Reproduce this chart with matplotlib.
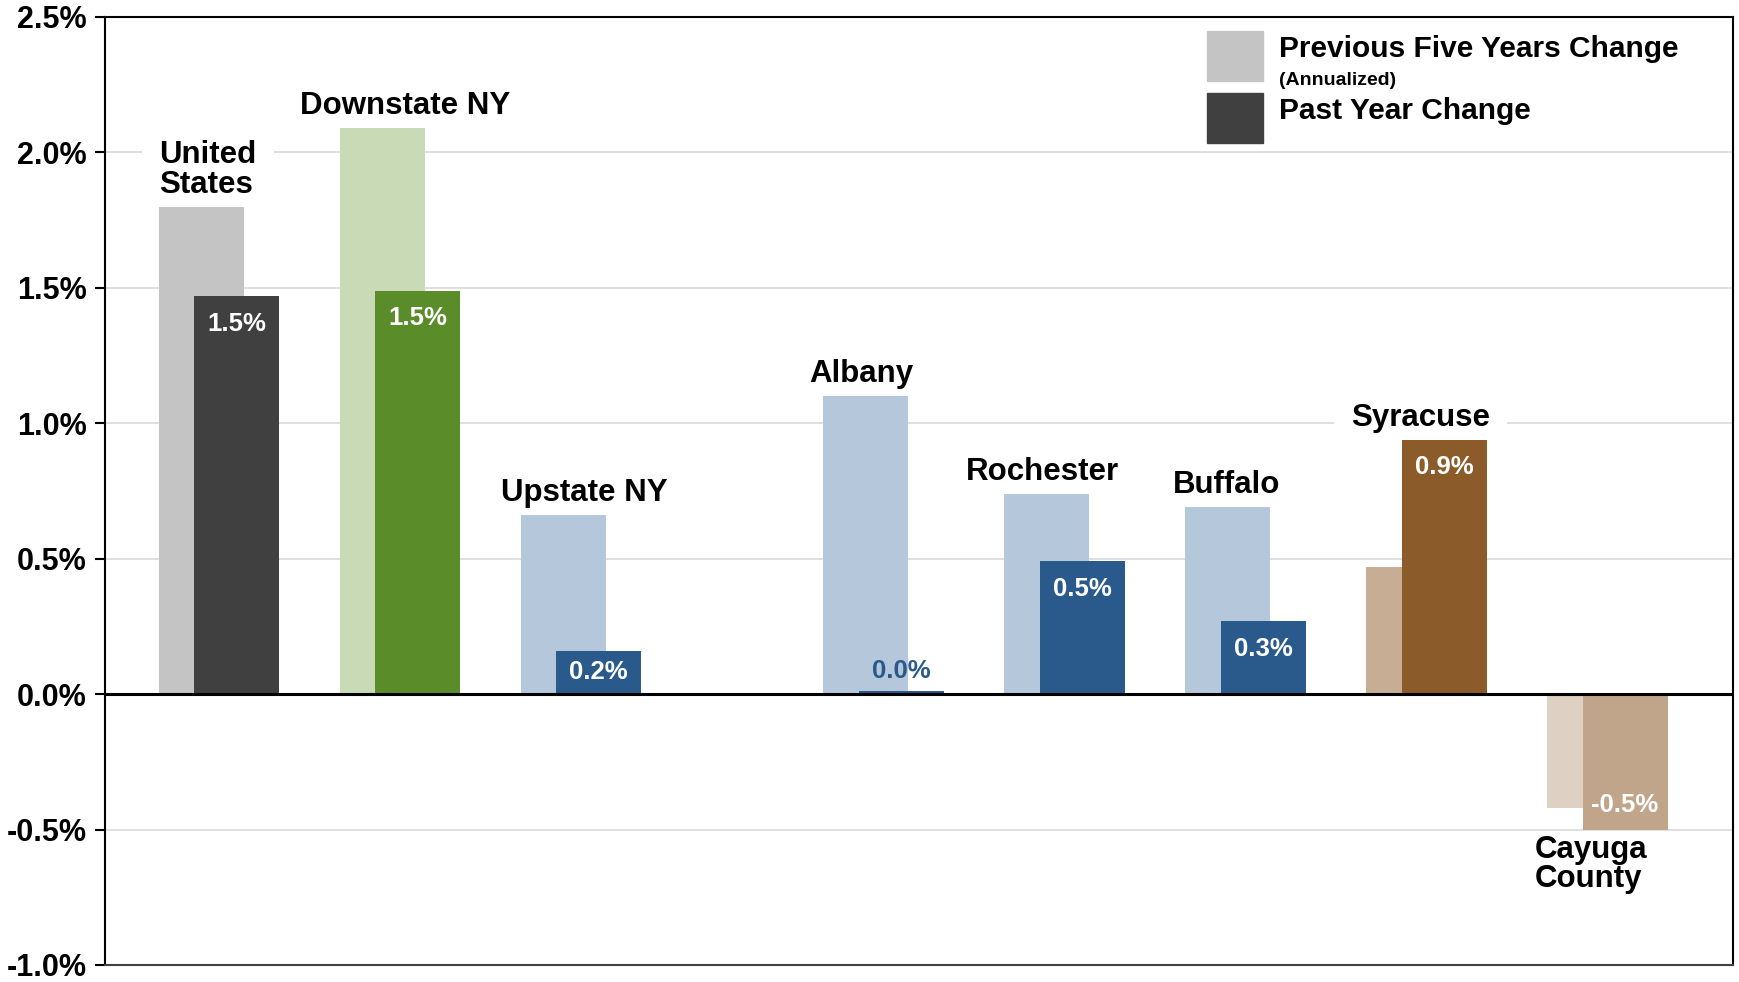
import matplotlib.pyplot as plt
from matplotlib.patches import Rectangle
import matplotlib.ticker as ticker

plt.rcParams['font.family'] = ['Liberation Sans', 'DejaVu Sans']
plt.rcParams['font.weight'] = 'bold'

# Data (percent change)
regions = ["United\nStates", "Downstate NY", "Upstate NY", "Albany",
           "Rochester", "Buffalo", "Syracuse", "Cayuga\nCounty"]
five_year = [1.80, 2.09, 0.66, 1.10, 0.74, 0.69, 0.47, -0.42]
past_year = [1.47, 1.49, 0.16, 0.01, 0.49, 0.27, 0.94, -0.50]

# bar positions (gap between Upstate NY and Albany)
pos = [0, 1, 2, 3.67, 4.67, 5.67, 6.67, 7.67]
label_x = [0.27, 1.36, 2.35, 3.88, 4.88, 5.90, 6.97, 7.91]

light_colors = ['#c4c4c4', '#c9dab6', '#b5c7da', '#b5c7da', '#b5c7da', '#b5c7da', '#c6ad94', '#ded0c2']
dark_colors = ['#404040', '#5b8c2a', '#2a5a8c', '#2a5a8c', '#2a5a8c', '#2a5a8c', '#8c5b2a', '#c1a58a']

W = 1739
H = 982
fig = plt.figure(figsize=(W / 100, H / 100), dpi=100)
ax = fig.add_axes([105 / W, 17 / H, (1733 - 105) / W, (965 - 17) / H])

bw = 0.47
off = 0.195
ax.bar(pos, five_year, width=bw, align='edge', color=light_colors, zorder=2)
dark_x = [p + off for p in pos]
ax.bar(dark_x, past_year, width=bw, align='edge', color=dark_colors, zorder=3)

ax.set_xlim(-0.298, 8.696)
ax.set_ylim(-1.0, 2.5)
ax.yaxis.set_major_locator(ticker.MultipleLocator(0.5))
ax.yaxis.set_major_formatter(ticker.FuncFormatter(lambda v, p: '{:.1f}%'.format(v)))
ax.set_xticks([])
ax.tick_params(axis='y', length=7, width=1.5, pad=6, labelsize=22)
for t in ax.get_yticklabels():
    t.set_fontweight('bold')

ax.grid(axis='y', color='#d9d9d9', lw=1.2, zorder=0)
ax.set_axisbelow(True)
ax.axhline(0, color='black', lw=2.2, zorder=4)

for s in ['left', 'top', 'right']:
    ax.spines[s].set_color('black')
    ax.spines[s].set_linewidth(1.5)
ax.spines['bottom'].set_color('#404040')
ax.spines['bottom'].set_linewidth(1.5)

# category labels (white box hides the gridlines behind them)
for i, name in enumerate(regions):
    top = max(five_year[i], past_year[i])
    bot = min(five_year[i], past_year[i])
    if top > 0:
        ax.annotate(name, xy=(label_x[i], top), xytext=(0, 5), textcoords='offset points',
                    ha='center', va='bottom', multialignment='left', fontsize=22.5,
                    fontweight='bold', linespacing=0.97, zorder=1,
                    bbox=dict(boxstyle='square,pad=0.55', fc='white', ec='none'))
    else:
        ax.annotate(name, xy=(label_x[i], bot), xytext=(0, -4), textcoords='offset points',
                    ha='center', va='top', multialignment='left', fontsize=22.5,
                    fontweight='bold', linespacing=0.97, zorder=1)

# value labels
for i, v in enumerate(past_year):
    cx = dark_x[i] + bw / 2
    txt = '{:.1f}%'.format(v)
    if abs(v) < 0.05:
        ax.annotate(txt, xy=(cx, v), xytext=(0, 6), textcoords='offset points',
                    ha='center', va='bottom', fontsize=18.5, fontweight='bold',
                    color=dark_colors[i], zorder=5)
    elif v > 0:
        ax.text(cx, max(v / 2, v - 0.103), txt, ha='center', va='center',
                fontsize=18.5, fontweight='bold', color='white', zorder=5)
    else:
        ax.text(cx, min(v / 2, v + 0.09), txt, ha='center', va='center',
                fontsize=18.5, fontweight='bold', color='white', zorder=5)

# legend drawn by hand
def fx(px):
    return px / W


def fy(py):
    return 1 - py / H


fig.add_artist(Rectangle((fx(1207), fy(81)), 56 / W, 50 / H, color='#c4c4c4',
                         transform=fig.transFigure, zorder=6))
fig.add_artist(Rectangle((fx(1207), fy(143)), 56 / W, 50 / H, color='#404040',
                         transform=fig.transFigure, zorder=6))
fig.text(fx(1279), fy(57), 'Previous Five Years Change', fontsize=21.5, fontweight='bold',
         ha='left', va='baseline')
fig.text(fx(1279), fy(85), '(Annualized)', fontsize=14, fontweight='bold',
         ha='left', va='baseline')
fig.text(fx(1279), fy(119), 'Past Year Change', fontsize=21.5, fontweight='bold',
         ha='left', va='baseline')

plt.savefig('out.png', dpi=100)
